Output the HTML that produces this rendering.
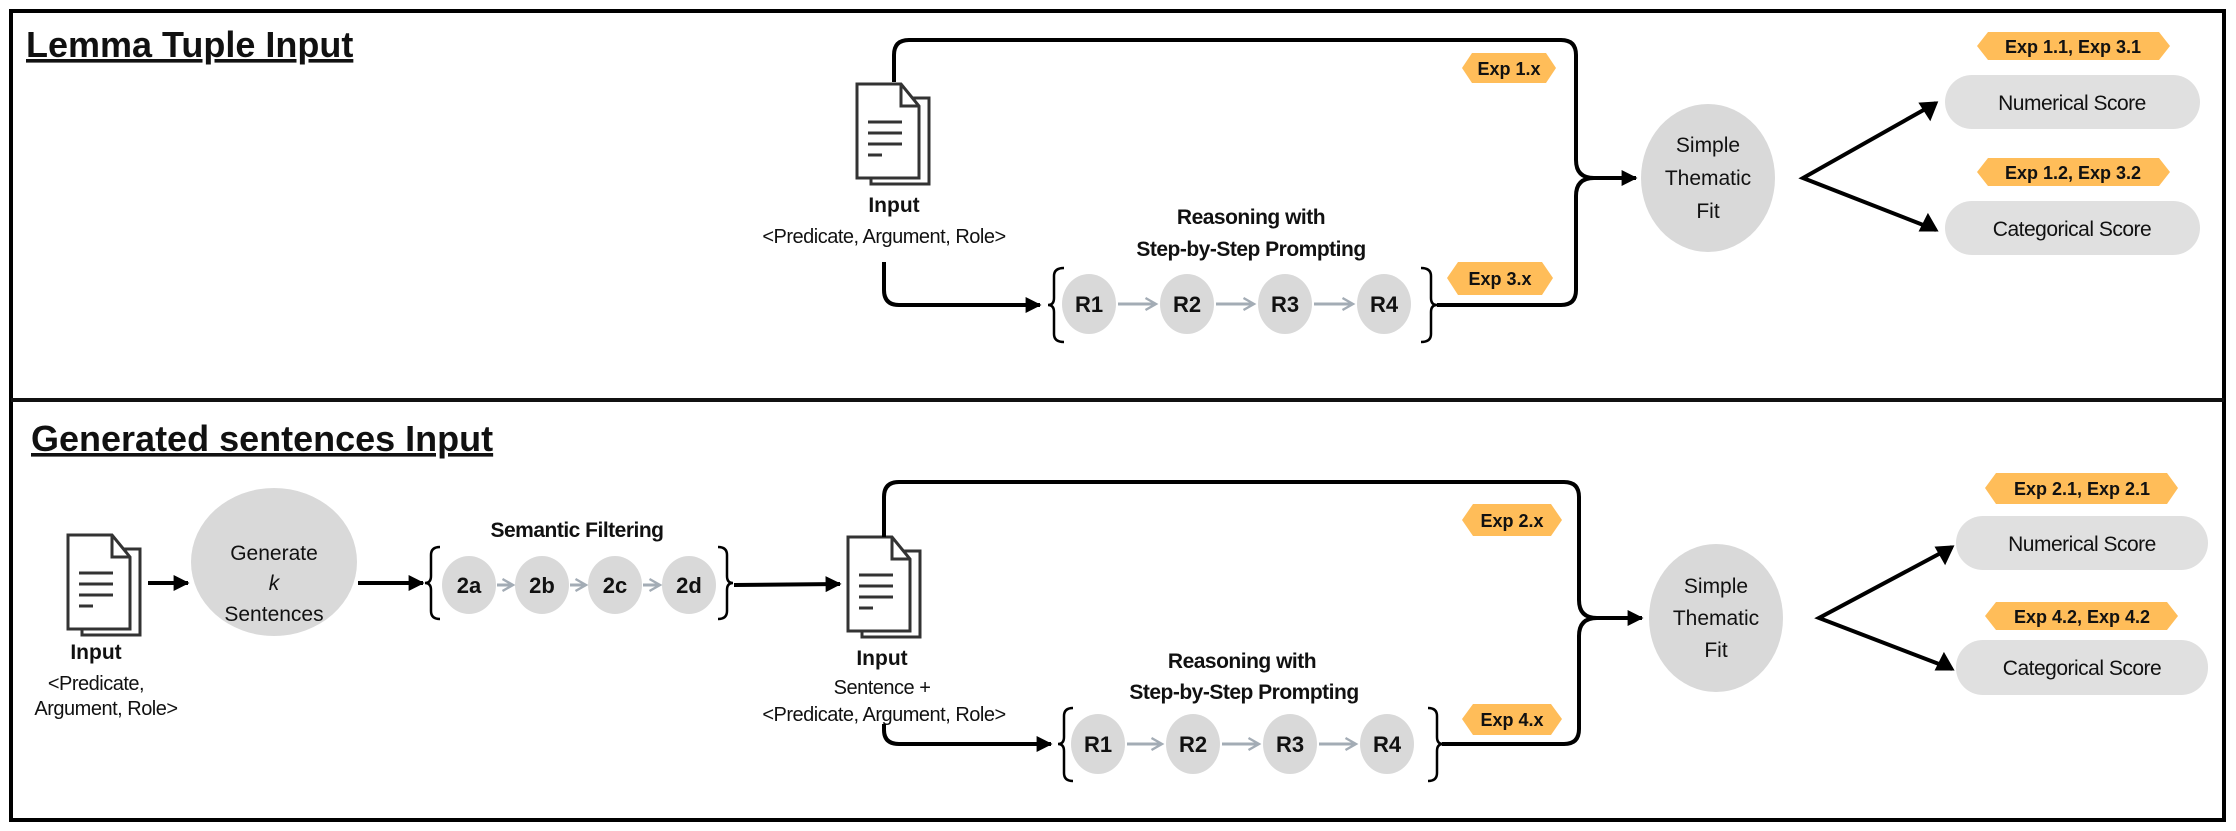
<!DOCTYPE html>
<html><head><meta charset="utf-8"><style>
html,body{margin:0;padding:0;background:#fff;}
svg{display:block;}
text{font-family:"Liberation Sans",sans-serif;fill:#111;}
.b{font-weight:bold;}
.t{letter-spacing:-0.5px;}
</style></head><body>
<svg width="2236" height="831" viewBox="0 0 2236 831" xmlns="http://www.w3.org/2000/svg">
<defs>
<marker id="ah" viewBox="0 0 10 10" refX="9" refY="5" markerWidth="4" markerHeight="4" orient="auto"><path d="M0,0 L10,5 L0,10 z" fill="#000"/></marker>
<marker id="ag" viewBox="0 0 10 10" refX="8" refY="5" markerWidth="5" markerHeight="5" orient="auto"><path d="M1,1 L8,5 L1,9" fill="none" stroke="#a3acb5" stroke-width="1.6"/></marker>
<g id="doc">
<path d="M14,14 h58 v86 h-58 z" fill="#fff" stroke="#333" stroke-width="3"/>
<path d="M0,0 h44 l18,22 v72 h-62 z" fill="#fff" stroke="#333" stroke-width="3"/>
<path d="M44,0 v22 h18" fill="none" stroke="#333" stroke-width="3"/>
<path d="M11,38 h34 M11,49 h34 M11,60 h34 M11,71 h14" stroke="#333" stroke-width="3"/>
</g>
</defs>

<rect x="11" y="11" width="2213" height="809" fill="none" stroke="#000" stroke-width="4"/>
<line x1="11" y1="400" x2="2224" y2="400" stroke="#111" stroke-width="4"/>

<!-- ===== TOP ===== -->
<text x="26" y="57" class="b" font-size="36" text-decoration="underline">Lemma Tuple Input</text>

<use href="#doc" x="857" y="84"/>
<text x="894" y="212" class="b" font-size="21" text-anchor="middle">Input</text>
<text x="884" y="243" class="t" font-size="20" text-anchor="middle">&lt;Predicate, Argument, Role&gt;</text>

<path d="M894,82 V55 Q894,40 909,40 H1561 Q1576,40 1576,55 V160 Q1576,178 1594,178 H1636" fill="none" stroke="#000" stroke-width="4" marker-end="url(#ah)"/>
<path d="M884,262 V290 Q884,305 899,305 H1040" fill="none" stroke="#000" stroke-width="4" marker-end="url(#ah)"/>
<path d="M1437,305 H1561 Q1576,305 1576,290 V196 Q1576,178 1594,178" fill="none" stroke="#000" stroke-width="4"/>

<path d="M1064,268 Q1054,268 1054,276 V298 Q1054,305 1048,305 Q1054,305 1054,312 V334 Q1054,342 1064,342" fill="none" stroke="#000" stroke-width="2.5"/>
<path d="M1421,268 Q1431,268 1431,276 V298 Q1431,305 1437,305 Q1431,305 1431,312 V334 Q1431,342 1421,342" fill="none" stroke="#000" stroke-width="2.5"/>

<text x="1251" y="224" class="b t" font-size="21" text-anchor="middle">Reasoning with</text>
<text x="1251" y="256" class="b t" font-size="21" text-anchor="middle">Step-by-Step  Prompting</text>

<g fill="#d9d9d9">
<ellipse cx="1089" cy="304" rx="27" ry="30"/><ellipse cx="1187" cy="304" rx="27" ry="30"/><ellipse cx="1285" cy="304" rx="27" ry="30"/><ellipse cx="1384" cy="304" rx="27" ry="30"/>
</g>
<g stroke="#a3acb5" stroke-width="3" marker-end="url(#ag)">
<line x1="1118" y1="304" x2="1156" y2="304"/><line x1="1216" y1="304" x2="1254" y2="304"/><line x1="1314" y1="304" x2="1353" y2="304"/>
</g>
<text x="1089" y="312" class="b" font-size="22" text-anchor="middle">R1</text><text x="1187" y="312" class="b" font-size="22" text-anchor="middle">R2</text><text x="1285" y="312" class="b" font-size="22" text-anchor="middle">R3</text><text x="1384" y="312" class="b" font-size="22" text-anchor="middle">R4</text>

<polygon points="1462,68 1472,53 1546,53 1556,68 1546,83 1472,83" fill="#ffbd59"/>
<text x="1509" y="75" class="b" font-size="18" text-anchor="middle">Exp 1.x</text>
<polygon points="1447,278 1458,262 1542,262 1553,278 1542,295 1458,295" fill="#ffbd59"/>
<text x="1500" y="285" class="b" font-size="18" text-anchor="middle">Exp 3.x</text>

<ellipse cx="1708" cy="178" rx="67" ry="74" fill="#d9d9d9"/>
<text x="1708" y="152" font-size="21" text-anchor="middle">Simple</text>
<text x="1708" y="185" font-size="21" text-anchor="middle">Thematic</text>
<text x="1708" y="218" font-size="21" text-anchor="middle">Fit</text>

<path d="M1936,103 L1803,178 L1936,230" fill="none" stroke="#000" stroke-width="4"/>
<path d="M1936,103 L1921,104 L1930,118 z M1936,230 L1928,216 L1921,230 z" fill="#000" stroke="#000" stroke-width="3"/>

<rect x="1945" y="75" width="255" height="54" rx="27" fill="#e0e0e0"/>
<text x="2072" y="110" class="t" font-size="21" text-anchor="middle">Numerical Score</text>
<rect x="1945" y="201" width="255" height="54" rx="27" fill="#e0e0e0"/>
<text x="2072" y="236" class="t" font-size="21" text-anchor="middle">Categorical Score</text>

<polygon points="1977,46 1988,32 2159,32 2170,46 2159,60 1988,60" fill="#ffbd59"/>
<text x="2073" y="53" class="b" font-size="18" text-anchor="middle">Exp 1.1, Exp 3.1</text>
<polygon points="1977,172 1988,158 2159,158 2170,172 2159,186 1988,186" fill="#ffbd59"/>
<text x="2073" y="179" class="b" font-size="18" text-anchor="middle">Exp 1.2, Exp 3.2</text>

<!-- ===== BOTTOM ===== -->
<text x="31" y="451" class="b" font-size="36" text-decoration="underline">Generated sentences Input</text>

<use href="#doc" x="68" y="535"/>
<text x="96" y="659" class="b" font-size="21" text-anchor="middle">Input</text>
<text x="96" y="690" class="t" font-size="20" text-anchor="middle">&lt;Predicate,</text>
<text x="106" y="715" class="t" font-size="20" text-anchor="middle">Argument, Role&gt;</text>

<line x1="148" y1="583" x2="188" y2="583" stroke="#000" stroke-width="4" marker-end="url(#ah)"/>
<ellipse cx="274" cy="562" rx="83" ry="74" fill="#d9d9d9"/>
<text x="274" y="560" font-size="21" text-anchor="middle">Generate</text>
<text x="274" y="590" font-size="21" font-style="italic" text-anchor="middle">k</text>
<text x="274" y="621" font-size="21" text-anchor="middle">Sentences</text>
<line x1="358" y1="583" x2="423" y2="583" stroke="#000" stroke-width="4" marker-end="url(#ah)"/>

<text x="577" y="537" class="b t" font-size="21" text-anchor="middle">Semantic Filtering</text>
<path d="M440,547 Q431,547 431,555 V576 Q431,583 425,583 Q431,583 431,590 V611 Q431,619 440,619" fill="none" stroke="#000" stroke-width="2.5"/>
<path d="M718,547 Q727,547 727,555 V576 Q727,583 733,583 Q727,583 727,590 V611 Q727,619 718,619" fill="none" stroke="#000" stroke-width="2.5"/>
<g fill="#d9d9d9">
<ellipse cx="469" cy="585" rx="27" ry="29"/><ellipse cx="542" cy="585" rx="27" ry="29"/><ellipse cx="615" cy="585" rx="27" ry="29"/><ellipse cx="689" cy="585" rx="27" ry="29"/>
</g>
<g stroke="#a3acb5" stroke-width="3" marker-end="url(#ag)">
<line x1="497" y1="585" x2="513" y2="585"/><line x1="570" y1="585" x2="586" y2="585"/><line x1="643" y1="585" x2="660" y2="585"/>
</g>
<text x="469" y="593" class="b" font-size="22" text-anchor="middle">2a</text>
<text x="542" y="593" class="b" font-size="22" text-anchor="middle">2b</text>
<text x="615" y="593" class="b" font-size="22" text-anchor="middle">2c</text>
<text x="689" y="593" class="b" font-size="22" text-anchor="middle">2d</text>

<line x1="734" y1="585" x2="840" y2="584" stroke="#000" stroke-width="4" marker-end="url(#ah)"/>

<use href="#doc" x="848" y="537"/>
<text x="882" y="665" class="b" font-size="21" text-anchor="middle">Input</text>
<text x="882" y="694" class="t" font-size="20" text-anchor="middle">Sentence +</text>
<text x="884" y="721" class="t" font-size="20" text-anchor="middle">&lt;Predicate, Argument, Role&gt;</text>

<path d="M884,537 V497 Q884,482 899,482 H1564 Q1579,482 1579,497 V600 Q1579,618 1597,618 H1642" fill="none" stroke="#000" stroke-width="4" marker-end="url(#ah)"/>
<path d="M884,724 V730 Q884,744 899,744 H1051" fill="none" stroke="#000" stroke-width="4" marker-end="url(#ah)"/>
<path d="M1442,744 H1564 Q1579,744 1579,729 V636 Q1579,618 1597,618" fill="none" stroke="#000" stroke-width="4"/>

<path d="M1073,708 Q1064,708 1064,716 V737 Q1064,744 1058,744 Q1064,744 1064,751 V773 Q1064,781 1073,781" fill="none" stroke="#000" stroke-width="2.5"/>
<path d="M1428,708 Q1437,708 1437,716 V737 Q1437,744 1443,744 Q1437,744 1437,751 V773 Q1437,781 1428,781" fill="none" stroke="#000" stroke-width="2.5"/>

<text x="1242" y="668" class="b t" font-size="21" text-anchor="middle">Reasoning with</text>
<text x="1244" y="699" class="b t" font-size="21" text-anchor="middle">Step-by-Step  Prompting</text>

<g fill="#d9d9d9">
<ellipse cx="1098" cy="744" rx="27" ry="30"/><ellipse cx="1193" cy="744" rx="27" ry="30"/><ellipse cx="1290" cy="744" rx="27" ry="30"/><ellipse cx="1387" cy="744" rx="27" ry="30"/>
</g>
<g stroke="#a3acb5" stroke-width="3" marker-end="url(#ag)">
<line x1="1127" y1="744" x2="1162" y2="744"/><line x1="1222" y1="744" x2="1259" y2="744"/><line x1="1319" y1="744" x2="1356" y2="744"/>
</g>
<text x="1098" y="752" class="b" font-size="22" text-anchor="middle">R1</text>
<text x="1193" y="752" class="b" font-size="22" text-anchor="middle">R2</text>
<text x="1290" y="752" class="b" font-size="22" text-anchor="middle">R3</text>
<text x="1387" y="752" class="b" font-size="22" text-anchor="middle">R4</text>

<polygon points="1462,520 1473,504 1551,504 1562,520 1551,536 1473,536" fill="#ffbd59"/>
<text x="1512" y="527" class="b" font-size="18" text-anchor="middle">Exp 2.x</text>
<polygon points="1462,719 1473,704 1551,704 1562,719 1551,735 1473,735" fill="#ffbd59"/>
<text x="1512" y="726" class="b" font-size="18" text-anchor="middle">Exp 4.x</text>

<ellipse cx="1716" cy="618" rx="67" ry="74" fill="#d9d9d9"/>
<text x="1716" y="593" font-size="21" text-anchor="middle">Simple</text>
<text x="1716" y="625" font-size="21" text-anchor="middle">Thematic</text>
<text x="1716" y="657" font-size="21" text-anchor="middle">Fit</text>

<path d="M1952,547 L1819,618 L1952,669" fill="none" stroke="#000" stroke-width="4"/>
<path d="M1952,547 L1937,548 L1945,562 z M1952,669 L1944,655 L1937,669 z" fill="#000" stroke="#000" stroke-width="3"/>

<rect x="1956" y="516" width="252" height="54" rx="27" fill="#e0e0e0"/>
<text x="2082" y="551" class="t" font-size="21" text-anchor="middle">Numerical Score</text>
<rect x="1956" y="640" width="252" height="55" rx="27" fill="#e0e0e0"/>
<text x="2082" y="675" class="t" font-size="21" text-anchor="middle">Categorical Score</text>

<polygon points="1985,488 1996,473 2167,473 2178,488 2167,504 1996,504" fill="#ffbd59"/>
<text x="2082" y="495" class="b" font-size="18" text-anchor="middle">Exp 2.1, Exp 2.1</text>
<polygon points="1985,616 1996,602 2167,602 2178,616 2167,630 1996,630" fill="#ffbd59"/>
<text x="2082" y="623" class="b" font-size="18" text-anchor="middle">Exp 4.2, Exp 4.2</text>
</svg>
</body></html>
